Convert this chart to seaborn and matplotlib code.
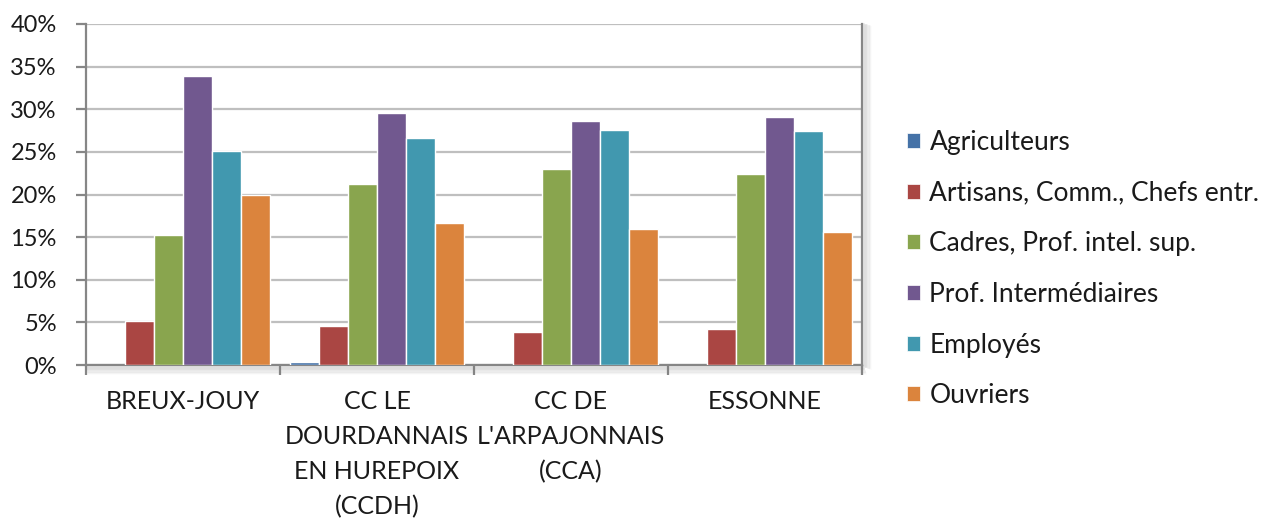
import matplotlib
matplotlib.use("Agg")
import matplotlib.pyplot as plt
import matplotlib.patheffects as pe
from matplotlib.ticker import FuncFormatter, MultipleLocator, FixedLocator
from matplotlib.patches import Patch
import numpy as np
import pandas as pd
import seaborn as sns

# Territories (x-axis categories)
territories = [
    "BREUX-JOUY",
    "CC LE\nDOURDANNAIS\nEN HUREPOIX\n(CCDH)",
    "CC DE\nL'ARPAJONNAIS\n(CCA)",
    "ESSONNE",
]

# Socio-professional categories (legend)
csp = [
    "Agriculteurs",
    "Artisans, Comm., Chefs entr.",
    "Cadres, Prof. intel. sup.",
    "Prof. Intermédiaires",
    "Employés",
    "Ouvriers",
]

# Share of each category per territory, in percent
agriculteurs = [0.0, 0.4, 0.0, 0.0]
artisans = [5.2, 4.6, 3.9, 4.2]
cadres = [15.2, 21.2, 23.0, 22.4]
prof_inter = [33.9, 29.6, 28.6, 29.1]
employes = [25.1, 26.6, 27.6, 27.5]
ouvriers = [19.9, 16.7, 15.9, 15.6]

colors = ["#4572A7", "#AA4643", "#89A54E", "#71588F", "#4198AF", "#DB843D"]

series = [agriculteurs, artisans, cadres, prof_inter, employes, ouvriers]
rows = []
for name, vals in zip(csp, series):
    for terr, v in zip(territories, vals):
        rows.append({"territoire": terr, "csp": name, "part": v / 100.0})
df = pd.DataFrame(rows)

sns.set_theme(style="white")
plt.rcParams["font.family"] = ["Lato", "DejaVu Sans"]

fig = plt.figure(figsize=(12.73, 5.22), dpi=100)
ax = fig.add_axes([86 / 1273, 1 - 365 / 522, (862 - 86) / 1273, (365 - 24) / 522])

sns.barplot(
    data=df, x="territoire", y="part", hue="csp",
    order=territories, hue_order=csp, palette=colors, saturation=1,
    width=0.9, edgecolor="white", linewidth=1.0,
    legend=False, ax=ax, zorder=3,
)
# empty bars get no outline
for bar in ax.patches:
    if bar.get_height() == 0:
        bar.set_linewidth(0)

ax.set_ylim(0, 0.40)
ax.set_xlim(-0.5, len(territories) - 0.5)
ax.yaxis.set_major_locator(MultipleLocator(0.05))
ax.yaxis.set_major_formatter(FuncFormatter(lambda v, p: f"{v * 100:.0f}%"))
ax.grid(axis="y", color="#BFBFBF", linewidth=1.6, zorder=0)
ax.set_axisbelow(True)
ax.set_xlabel("")
ax.set_ylabel("")

# Spines: grey left/bottom axes, right border, no top
for side in ["left", "bottom", "right"]:
    ax.spines[side].set_visible(True)
    ax.spines[side].set_color("#868686")
    ax.spines[side].set_linewidth(1.6)
ax.spines["top"].set_visible(False)


def soft_shadow(dx, dy, steps=6, alpha=0.2):
    effects = []
    for k in range(1, steps + 1):
        effects.append(pe.SimpleLineShadow(offset=(dx * k, dy * k), shadow_color="#808080",
                                           alpha=alpha * (1 - (k - 1) / steps), linewidth=1.8))
    effects.append(pe.Normal())
    return effects


ax.spines["bottom"].set_path_effects(soft_shadow(0.3, -1.0))
ax.spines["right"].set_path_effects(soft_shadow(1.0, -0.3))

# Y ticks
ax.tick_params(axis="y", which="major", left=True, length=7, width=1.6, color="#868686",
               labelsize=17, pad=14, labelcolor="#1A1A1A")

# X: labels at category centres, tick marks at category boundaries
ax.set_xticks(range(len(territories)), labels=territories, linespacing=1.62,
              verticalalignment="top", fontsize=18, color="#1A1A1A")
ax.tick_params(axis="x", which="major", bottom=False, length=0, pad=18)
ax.xaxis.set_minor_locator(FixedLocator(np.arange(-0.5, len(territories), 1.0)))
ax.tick_params(axis="x", which="minor", bottom=True, length=7, width=1.6, color="#868686")

handles = [Patch(facecolor=c, edgecolor="white", linewidth=0.5) for c in colors]
fig.legend(
    handles, csp, loc="center left", bbox_to_anchor=(907 / 1273, 1 - 269 / 522),
    frameon=False, fontsize=19, handlelength=0.5, handleheight=0.5,
    handletextpad=0.35, labelspacing=0.975, borderpad=0, borderaxespad=0,
    labelcolor="#1A1A1A",
)

fig.savefig("out.png", dpi=100, facecolor="white")
